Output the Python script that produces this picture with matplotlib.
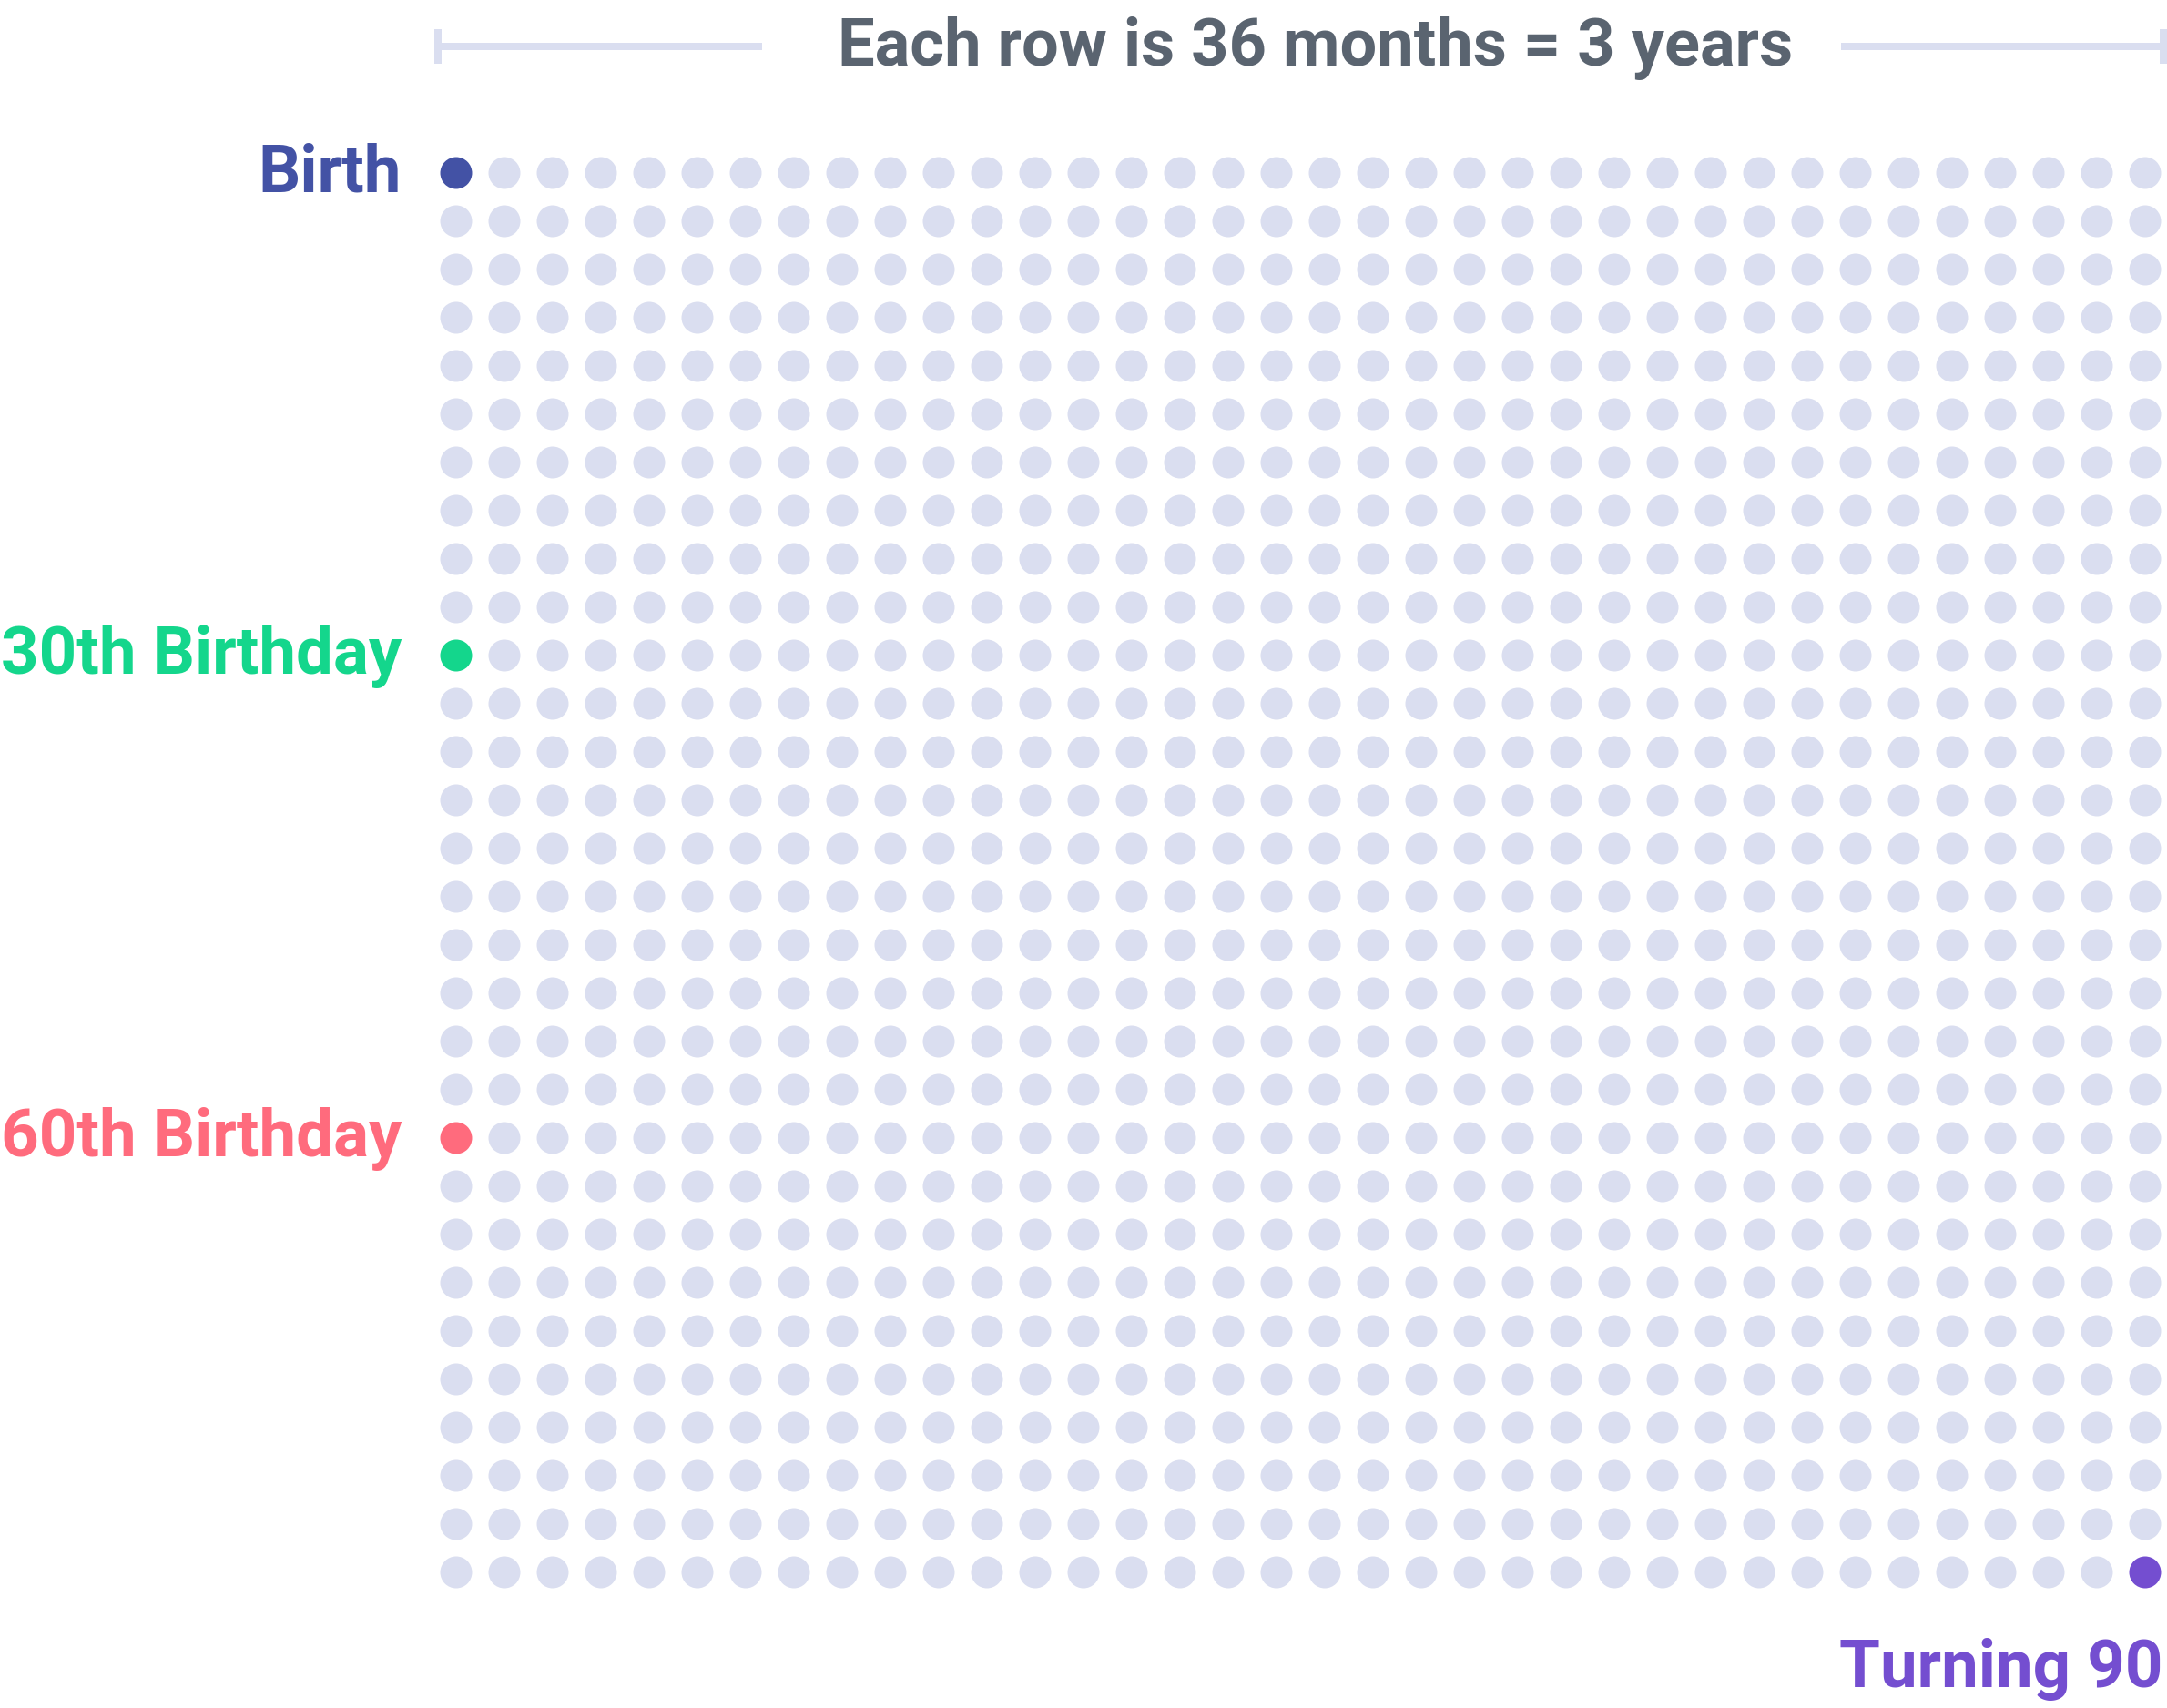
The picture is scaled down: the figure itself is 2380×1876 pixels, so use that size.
import numpy as np
import matplotlib.pyplot as plt

# %% data
n_cols = 36  # months per row
n_rows = 30  # rows (3 years each)
milestone_months = [0, 360, 720, 1079]
milestone_labels = ["Birth", "30th Birthday", "60th Birthday", "Turning 90"]
milestone_colors = ["#4352a5", "#14d68c", "#ff6b7d", "#744ed0"]
title = "Each row is 36 months = 3 years"

dot_color = "#dadef0"
title_color = "#5a6470"

plt.rcParams['font.family'] = ['Roboto', 'DejaVu Sans']

# %% figure, axes in grid units (1 unit = 53 px)
fig = plt.figure(figsize=(23.8, 18.76), dpi=100)
ax = fig.add_axes([0, 0, 1, 1])
ax.set_xlim(-501 / 53, (2380 - 501) / 53)
ax.set_ylim((1876 - 190) / 53, -190 / 53)
ax.axis("off")

months = np.arange(n_cols * n_rows)
cols = months % n_cols
rows = months // n_cols
colors = [dot_color] * len(months)
for m, c in zip(milestone_months, milestone_colors):
    colors[m] = c
ax.scatter(cols, rows, s=(35 * 72 / 100) ** 2, c=colors, linewidths=0)

# labels
for m, lab, c in zip(milestone_months, milestone_labels, milestone_colors):
    r = m // n_cols
    if m == milestone_months[-1]:
        ax.text(n_cols - 1 + 0.37, r + 2.38, lab, color=c, fontsize=52.3,
                fontweight="bold", ha="right", va="baseline")
    else:
        ax.text(-1.13, r + 0.38, lab, color=c, fontsize=52.3,
                fontweight="bold", ha="right", va="baseline")

# title with bracket
yb = -2.62
ax.text((n_cols - 1) / 2 + 0.3, -2.23, title, color=title_color, fontsize=52,
        fontweight="bold", ha="center", va="baseline")
lw = 8 * 72 / 100
ax.plot([-0.38, 6.34], [yb, yb], color=dot_color, lw=lw, solid_capstyle="butt")
ax.plot([28.7, n_cols - 1 + 0.38], [yb, yb], color=dot_color, lw=lw, solid_capstyle="butt")
for x in [-0.38, n_cols - 1 + 0.38]:
    ax.plot([x, x], [yb - 0.36, yb + 0.36], color=dot_color, lw=lw, solid_capstyle="butt")

fig.savefig("out.png", dpi=100)
